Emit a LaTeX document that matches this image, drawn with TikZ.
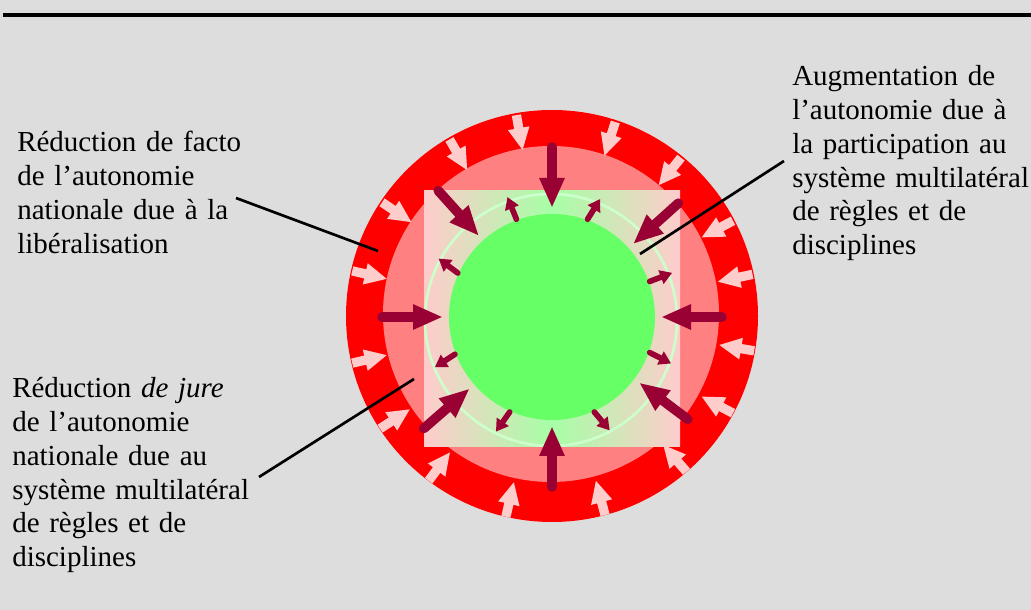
\documentclass[tikz,border=0pt]{standalone}
\usepackage{fontspec}
\setmainfont{Liberation Serif}
\usetikzlibrary{arrows.meta,calc}
\definecolor{auink}{HTML}{000000}
\definecolor{aupage}{HTML}{DDDDDD}
\definecolor{auouter}{HTML}{FF0000}
\definecolor{aumiddle}{HTML}{FF8080}
\definecolor{aupale}{HTML}{FFCCCC}
\definecolor{aumint}{HTML}{A6FFA6}
\definecolor{aucore}{HTML}{66FF66}
\definecolor{auring}{HTML}{CCFFCC}
\definecolor{aupush}{HTML}{990033}
\tikzset{
  aulabel/.style={
    anchor=base west,
    inner sep=0pt,
    align=left,
    text width=190pt,
    font=\fontsize{21.75pt}{25.3pt}\selectfont,
    text=auink
  },
  auleader/.style={
    draw=auink,
    line width=2pt
  },
  aupressure/.style={
    -{Triangle[length=17pt,width=15pt]},
    line width=7pt,
    color=aupale
  },
  aurule/.style={
    -{Triangle[length=22.5pt,width=17.5pt]},
    line width=7.25pt,
    line cap=round,
    color=aupush
  },
  augain/.style={
    -{Triangle[length=9pt,width=10.5pt]},
    line width=4.25pt,
    line cap=round,
    color=aupush
  }
}

\begin{document}
\begin{tikzpicture}[x=0.75pt,y=0.75pt]
  \useasboundingbox (0,0) rectangle (1031,610);
  \fill[aupage] (0,0) rectangle (1031,610);
  \draw[auink, line width=3pt] (3,595) -- (1031,595);

  \coordinate (ctr) at (552,293);

  % rings
  \fill[auouter] (552,294) circle[radius=206];
  \fill[aumiddle] (551,296) circle[radius=168];

  % outer pressure
  \foreach \a in {100,72,51,28,12,-9.5,-28,-49,-75,-103,-127,-147,-167,167,146,120}
    \draw[aupressure] ($(ctr)+(\a:205)$) -- ($(ctr)+(\a:169)$);

  \shade[left color=aupale, right color=aupale, middle color=aumint]
    (424,163) rectangle (680,419);
  \draw[auring, line width=2pt] (551,290) circle[radius=126];
  \fill[aucore] (ctr) circle[radius=103];

  % rules pushing in
  \foreach \a in {90,132,180,221,270,323,0,42}
    \draw[aurule] ($(ctr)+(\a:170)$) -- ($(ctr)+(\a:109)$);

  % autonomy gained
  \foreach \s/\d in {110/112,70/58,155/143,20/21,-20/-27,-159/-147,-114/-125,-66/-50}
    \draw[augain] ($(ctr)+(\s:104)$) -- ++(\d:24);

  % labels
  \node[aulabel] (facto) at (17,458) {%
    Réduction de facto\\
    de l’autonomie\\
    nationale due à la\\
    libéralisation%
  };
  \node[aulabel] (gain) at (792,524) {%
    Augmentation de\\
    l’autonomie due à\\
    la participation au\\
    système multilatéral\\
    de règles et de\\
    disciplines%
  };
  \node[aulabel] (jure) at (12,212) {%
    Réduction \textit{de jure}\\
    de l’autonomie\\
    nationale due au\\
    système multilatéral\\
    de règles et de\\
    disciplines%
  };

  \coordinate (factofrom) at (236,412);
  \coordinate (factoto) at (378,359);
  \coordinate (gainfrom) at (784,449);
  \coordinate (gainto) at (640,356);
  \coordinate (jurefrom) at (259,133);
  \coordinate (jureto) at (414,231);
  \draw[auleader] (factofrom) -- (factoto);
  \draw[auleader] (gainfrom) -- (gainto);
  \draw[auleader] (jurefrom) -- (jureto);
\end{tikzpicture}
\end{document}
